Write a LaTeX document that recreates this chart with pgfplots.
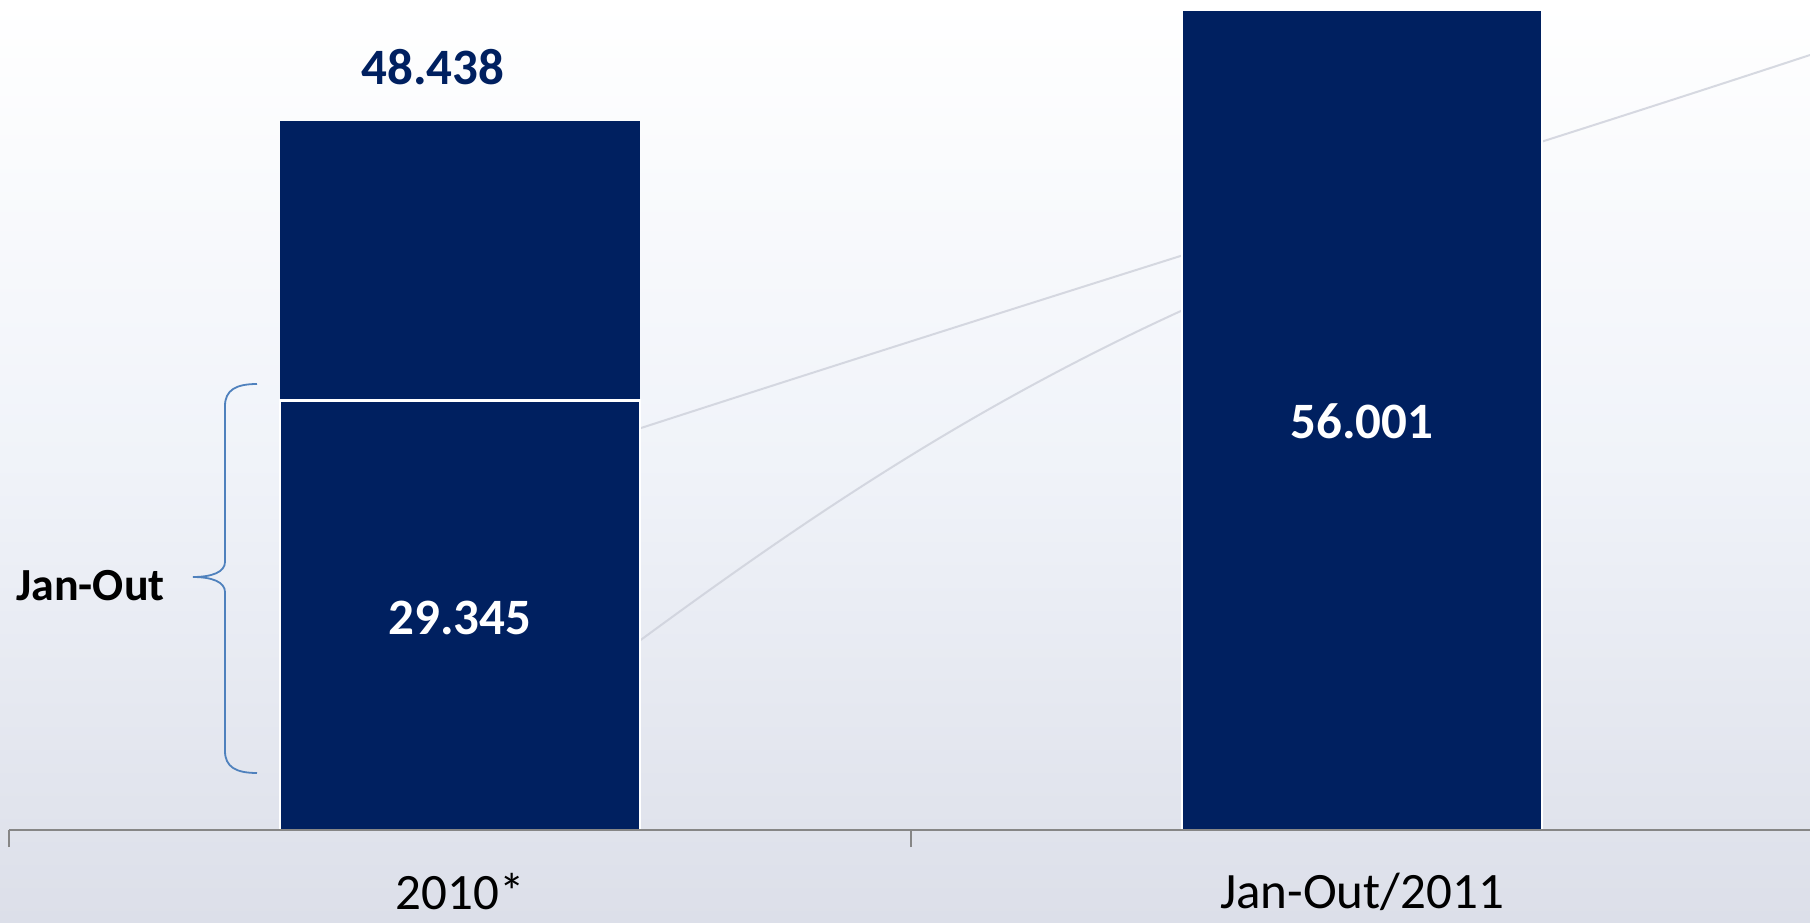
\documentclass[border=0pt]{standalone}
\usepackage{fontspec}
\setmainfont{Carlito}
\usepackage{pgfplots}
\pgfplotsset{compat=1.18}
\definecolor{navy}{RGB}{0,32,96}
\definecolor{axgray}{RGB}{134,134,134}
\definecolor{bracecol}{RGB}{79,129,189}
\definecolor{bgbot}{RGB}{220,223,233}
\definecolor{bgmid}{RGB}{240,243,249}
\definecolor{streak}{RGB}{205,208,218}
% pixel frame of the reference: (px,py) with origin top-left
\tikzset{pix/.style={x=0.5pt,y=-0.5pt,shift={(-4.5pt,415pt)}}}
\begin{document}
\begin{tikzpicture}
\begin{scope}[pix]
  \shade[top color=white, bottom color=bgbot, middle color=bgmid] (0,0) rectangle (1810,922);
  \draw[streak, line width=1pt, opacity=0.8] (300,540) .. controls (900,340) and (1400,190) .. (1810,55);
  \draw[streak, line width=1pt, opacity=0.8] (560,700) .. controls (800,520) and (1000,380) .. (1300,260);
\end{scope}
\begin{axis}[
  scale only axis, width=902pt, height=415pt,
  xmin=-0.5, xmax=1.5, ymin=0, ymax=56.69,
  axis x line=bottom, axis y line=none,
  axis line style={-, draw=axgray, line width=1pt},
  xtick={-0.5,0.5,1.5}, x tick label as interval,
  xticklabels={2010*, Jan-Out/2011},
  tick align=outside, major tick length=8.5pt,
  tick style={axgray, line width=0.8pt},
  xticklabel style={font=\fontsize{25.5}{30}\selectfont, text=black, anchor=north, inner sep=0pt, yshift=-13pt},
  ybar stacked, bar width=180pt,
  axis on top, clip=false,
]
\addplot[fill=navy, draw=white, line width=1.2pt] coordinates {(0,29.345) (1,56.001)};
\addplot[fill=navy, draw=none] coordinates {(0,19.093) (1,0)};
\coordinate (tot) at (axis cs:0,52.1);
\coordinate (low) at (axis cs:0,14.5);
\coordinate (b2) at (axis cs:1,27.9);
\coordinate (jo) at (axis cs:-0.327,16.67);
\end{axis}
\node[font=\bfseries\fontsize{25.5}{30}\selectfont, text=navy, xshift=-13.5pt] at (tot) {48.438};
\node[font=\bfseries\fontsize{25.5}{30}\selectfont, text=white] at (low) {29.345};
\node[font=\bfseries\fontsize{25.5}{30}\selectfont, text=white] at (b2) {56.001};
\node[font=\bfseries\fontsize{23}{28}\selectfont, anchor=east, inner sep=0pt] at (jo) {Jan-Out};
\begin{scope}[pix]
  \draw[bracecol, line width=0.9pt]
    (257,384) .. controls (236,384) and (225,390) .. (225,406) -- (225,562)
    .. controls (225,572) and (212,577) .. (193,577)
    .. controls (212,577) and (225,582) .. (225,592) -- (225,751)
    .. controls (225,767) and (236,773) .. (257,773);
\end{scope}
\pgfresetboundingbox
\path[pix] (0,0) rectangle (1810,922);
\end{tikzpicture}
\end{document}
